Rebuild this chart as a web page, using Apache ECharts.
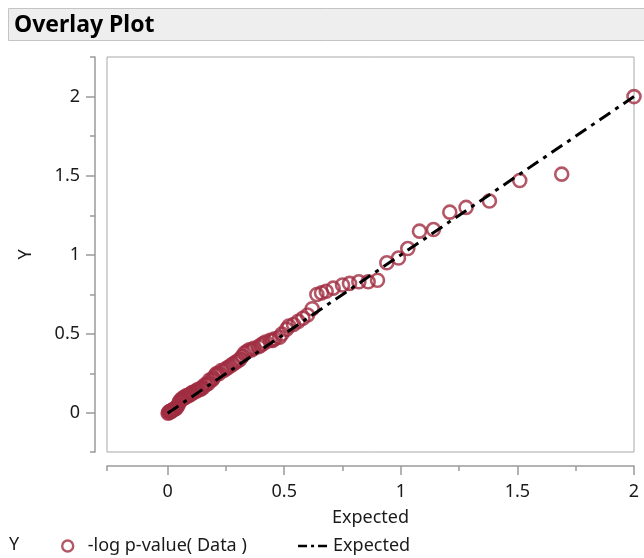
<!DOCTYPE html>
<html>
<head>
<meta charset="utf-8">
<script src="https://cdn.jsdelivr.net/npm/echarts@6/dist/echarts.min.js"></script>
<style>
html,body{margin:0;padding:0;background:#fff;}
#chart{width:644px;height:558px;}
</style>
</head>
<body>
<div id="chart"></div>
<script>
// Data
const expectedX = [2.00,1.69,1.51,1.38,1.28,1.21,1.14,1.08,1.03,0.99,0.94,0.90,0.86,0.82,0.78,0.75,0.71,0.68,0.66,0.64,
0.62,0.60,0.58,0.56,0.54,0.52,0.51,0.49,0.48,0.46,0.45,0.44,0.42,0.41,0.40,0.39,0.37,0.36,0.35,0.34,
0.33,0.32,0.31,0.30,0.29,0.28,0.27,0.26,0.25,0.24,0.23,0.22,0.21,0.205,0.195,0.19,0.18,0.175,0.165,0.16,
0.15,0.145,0.14,0.13,0.125,0.12,0.11,0.105,0.10,0.095,0.09,0.085,0.08,0.075,0.07,0.065,0.06,0.055,0.05,0.045,
0.04,0.036,0.032,0.028,0.024,0.02,0.017,0.014,0.011,0.008,0.005,0.002];
const observedY = [2.00,1.51,1.47,1.34,1.30,1.27,1.16,1.15,1.04,0.98,0.95,0.84,0.83,0.83,0.82,0.81,0.79,0.77,0.76,0.75,
0.66,0.62,0.60,0.58,0.56,0.55,0.53,0.50,0.48,0.47,0.46,0.46,0.45,0.44,0.43,0.42,0.41,0.40,0.40,0.39,
0.38,0.36,0.34,0.33,0.32,0.31,0.30,0.29,0.28,0.27,0.27,0.25,0.25,0.24,0.22,0.21,0.21,0.19,0.18,0.18,
0.16,0.16,0.15,0.15,0.14,0.14,0.13,0.13,0.12,0.12,0.11,0.11,0.11,0.10,0.10,0.09,0.09,0.08,0.07,0.05,
0.04,0.03,0.03,0.025,0.02,0.02,0.015,0.01,0.01,0.01,0.005,0.0];
const refLineX = [0, 2];
const refLineY = [0, 2];
const majorTicks = [0, 0.5, 1, 1.5, 2];
const xMinorTicks = [-0.26, 0.25, 0.75, 1.25, 1.75];
const yMinorTicks = [-0.245, 0.25, 0.75, 1.25, 1.75, 2.25];
const seriesNames = ['-log p-value( Data )', 'Expected'];

const FONT = "'Noto Sans', 'Open Sans', sans-serif";
const AXIS_COLOR = '#9a9a9a';
const TEXT_COLOR = '#1a1a1a';
const POINT_COLOR = '#a02d41';

const scatterData = expectedX.map((x, i) => [x, observedY[i]]);
const lineData = refLineX.map((x, i) => [x, refLineY[i]]);

const chart = echarts.init(document.getElementById('chart'), null, {renderer: 'canvas'});
chart.setOption({
  animation: false,
  backgroundColor: '#ffffff',
  textStyle: {fontFamily: FONT},
  graphic: [
    {type: 'rect', shape: {x: 8.5, y: 8.5, width: 640, height: 32}, style: {fill: '#eeeeee', stroke: '#c4c4c4', lineWidth: 1}},
    {type: 'text', left: 14, top: 14, style: {text: 'Overlay Plot', font: "bold 23px " + FONT, fill: '#000'}},
    {type: 'text', left: 9, top: 536, style: {text: 'Y', font: "18px " + FONT, fill: TEXT_COLOR}}
  ],
  grid: {left: 107, top: 57, width: 527, height: 395, show: true, borderColor: '#a8a8a8', borderWidth: 1, backgroundColor: '#fff'},
  legend: {
    data: [
      {name: seriesNames[0], icon: 'circle', itemStyle: {color: 'rgba(0,0,0,0)', borderColor: POINT_COLOR, borderWidth: 2.4}},
      {name: seriesNames[1], itemStyle: {color: 'rgba(0,0,0,0)', borderColor: 'rgba(0,0,0,0)', borderWidth: 0},
       lineStyle: {color: '#000', width: 2.5, type: [9, 4, 3, 4]}}
    ],
    left: 56, top: 532,
    itemWidth: 30, itemHeight: 11, itemGap: 50,
    textStyle: {fontSize: 18, color: TEXT_COLOR, fontFamily: FONT}
  },
  xAxis: [
    {
      type: 'value', min: -0.26, max: 2.0, offset: 14, position: 'bottom',
      axisLine: {show: true, onZero: false, lineStyle: {color: AXIS_COLOR, width: 1.5}},
      axisTick: {show: true, customValues: majorTicks, length: 9, lineStyle: {color: AXIS_COLOR, width: 1.5}},
      axisLabel: {customValues: majorTicks, fontSize: 18, color: TEXT_COLOR, margin: 17, fontFamily: FONT},
      splitLine: {show: false},
      name: 'Expected', nameLocation: 'middle', nameGap: 43,
      nameTextStyle: {fontSize: 18, color: TEXT_COLOR, fontFamily: FONT}
    },
    {
      type: 'value', min: -0.26, max: 2.0, offset: 14, position: 'bottom',
      axisLine: {show: false, onZero: false},
      axisTick: {show: true, customValues: xMinorTicks, length: 5, lineStyle: {color: AXIS_COLOR, width: 1.5}},
      axisLabel: {show: false},
      splitLine: {show: false}
    }
  ],
  yAxis: [
    {
      type: 'value', min: -0.245, max: 2.25, offset: 12, position: 'left',
      axisLine: {show: true, onZero: false, lineStyle: {color: AXIS_COLOR, width: 1.5}},
      axisTick: {show: true, customValues: majorTicks, length: 9, lineStyle: {color: AXIS_COLOR, width: 1.5}},
      axisLabel: {customValues: majorTicks, fontSize: 18, color: TEXT_COLOR, margin: 15, fontFamily: FONT},
      splitLine: {show: false},
      name: 'Y', nameLocation: 'middle', nameGap: 60,
      nameTextStyle: {fontSize: 18, color: TEXT_COLOR, fontFamily: FONT}
    },
    {
      type: 'value', min: -0.245, max: 2.25, offset: 12, position: 'left',
      axisLine: {show: false, onZero: false},
      axisTick: {show: true, customValues: yMinorTicks, length: 5, lineStyle: {color: AXIS_COLOR, width: 1.5}},
      axisLabel: {show: false},
      splitLine: {show: false}
    }
  ],
  series: [
    {
      name: seriesNames[0], type: 'scatter', xAxisIndex: 0, yAxisIndex: 0,
      symbol: 'circle', symbolSize: 13,
      itemStyle: {color: 'rgba(0,0,0,0)', borderColor: POINT_COLOR, borderWidth: 2.6},
      data: scatterData, z: 2
    },
    {
      name: seriesNames[1], type: 'line', xAxisIndex: 0, yAxisIndex: 0,
      symbol: 'none', showSymbol: false,
      lineStyle: {color: '#000', width: 3, type: [13, 6, 4, 6]},
      itemStyle: {color: '#000'},
      data: lineData, z: 3
    }
  ]
});
</script>
</body>
</html>
